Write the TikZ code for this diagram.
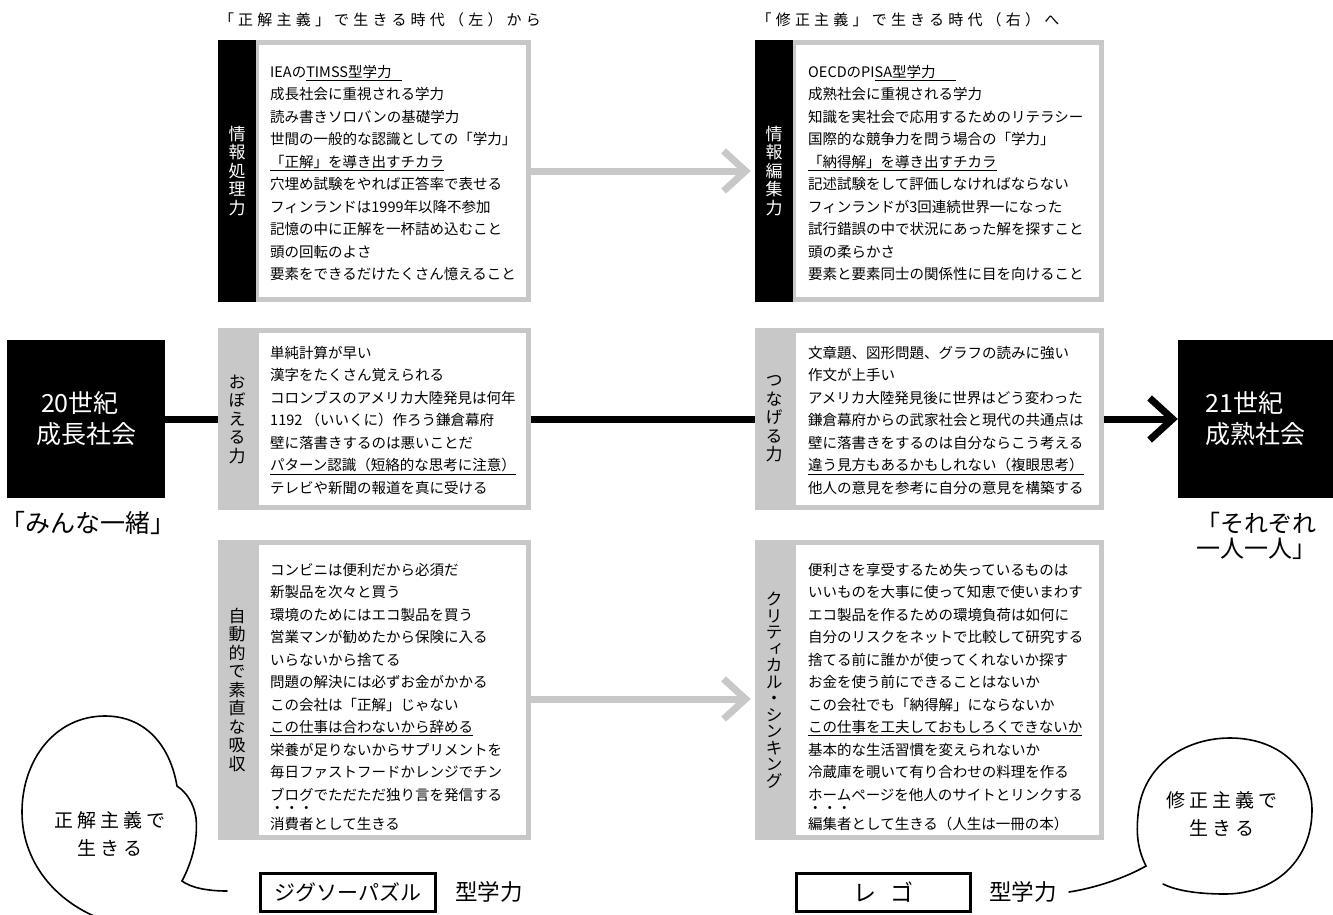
\documentclass[tikz,border=0pt]{standalone}
\usepackage{fontspec}
\setmainfont{Noto Sans CJK JP}
\newfontfamily\tatefont[RawFeature=+vert]{Noto Sans CJK JP}
\newfontfamily\spacedfont[LetterSpace=28]{Noto Sans CJK JP}
\newfontfamily\bubblefont[LetterSpace=22]{Noto Sans CJK JP}
\usepackage{tikz}
\usetikzlibrary{arrows.meta}
\definecolor{panelgray}{RGB}{200,200,200}
\definecolor{bargray}{RGB}{200,200,200}
\newcommand{\bt}[1]{\rlap{\raisebox{16pt}{・}}#1}

\begin{document}
\begin{tikzpicture}[x=1pt, y=-1pt,
    panel/.style={draw=panelgray, line width=5pt, fill=white, inner sep=0pt},
    darkbar/.style={fill=black, text=white, inner sep=0pt, minimum width=38pt, align=center, font=\fontsize{17}{18.5}\tatefont},
    lightbar/.style={darkbar, fill=bargray, text=black},
    items/.style={anchor=north west, inner sep=0pt, align=left, font=\fontsize{14.5}{22.5}\selectfont},
    era/.style={fill=black, text=white, inner sep=0pt, align=left, minimum height=158pt, font=\fontsize{25}{31}\selectfont},
    blackline/.style={line width=7pt},
    grayarrow/.style={line width=7pt, draw=bargray, shorten >=4pt, -{Straight Barb[length=22pt, width=40pt]}},
    kindbox/.style={draw, line width=3pt, inner sep=0pt, minimum height=38pt, font=\fontsize{21}{21}\selectfont},
    kind/.style={inner sep=0pt, font=\fontsize{22.5}{22.5}\selectfont},
    voice/.style={line width=1.6pt, line cap=round},
    voicetext/.style={align=center, inner sep=0pt, font=\fontsize{19}{28}\bubblefont}]
    \useasboundingbox (0,0) rectangle (1333,915);
    \clip (0,0) rectangle (1333,915);

    % Headings
    \node[font=\fontsize{15}{15}\spacedfont] (titleL) at (380,20) {「正解主義」で生きる時代（左）から};
    \node[font=\fontsize{15}{15}\spacedfont] (titleR) at (908,20) {「修正主義」で生きる時代（右）へ};

    % Top row
    \node[panel, minimum width=272pt, minimum height=257pt] (topL) at (392,171) {};
    \node[darkbar, minimum height=262pt] (topLbar) at (237,171) {情\\報\\処\\理\\力};
    \node[items] (topLtext) at (270,65) {IEAの\underline{TIMSS型学力\hspace{0.7em}}\\
        成長社会に重視される学力\\
        読み書きソロバンの基礎学力\\
        世間の一般的な認識としての「学力」\\
        \underline{「正解」を導き出すチカラ}\\
        穴埋め試験をやれば正答率で表せる\\
        フィンランドは1999年以降不参加\\
        記憶の中に正解を一杯詰め込むこと\\
        頭の回転のよさ\\
        要素をできるだけたくさん憶えること};

    \node[panel, minimum width=308pt, minimum height=257pt] (topR) at (947,171) {};
    \node[darkbar, minimum height=262pt] (topRbar) at (774,171) {情\\報\\編\\集\\力};
    \node[items] (topRtext) at (808,65) {OECDのPI\underline{SA型学力\hspace{1.4em}}\\
        成熟社会に重視される学力\\
        知識を実社会で応用するためのリテラシー\\
        国際的な競争力を問う場合の「学力」\\
        \underline{「納得解」を導き出すチカラ}\\
        記述試験をして評価しなければならない\\
        フィンランドが3回連続世界一になった\\
        試行錯誤の中で状況にあった解を探すこと\\
        頭の柔らかさ\\
        要素と要素同士の関係性に目を向けること};

    % Middle row
    \node[era, minimum width=158pt] (c20) at (86,419) {\hspace{5pt}20世紀\\成長社会};
    \node[inner sep=0pt, font=\fontsize{25}{25}\selectfont] (together) at (88,523) {「みんな一緒」};

    \node[panel, minimum width=272pt, minimum height=177pt] (midL) at (392,419) {};
    \node[lightbar, minimum height=182pt] (midLbar) at (237,419) {お\\ぼ\\え\\る\\力};
    \node[items] (midLtext) at (270,346) {単純計算が早い\\
        漢字をたくさん覚えられる\\
        コロンブスのアメリカ大陸発見は何年\\
        1192 （いいくに）作ろう鎌倉幕府\\
        壁に落書きするのは悪いことだ\\
        \underline{パターン認識（短絡的な思考に注意）}\\
        テレビや新聞の報道を真に受ける};

    \node[panel, minimum width=308pt, minimum height=177pt] (midR) at (947,419) {};
    \node[lightbar, minimum height=182pt] (midRbar) at (774,419) {つ\\な\\げ\\る\\力};
    \node[items] (midRtext) at (808,346) {文章題、図形問題、グラフの読みに強い\\
        作文が上手い\\
        アメリカ大陸発見後に世界はどう変わった\\
        鎌倉幕府からの武家社会と現代の共通点は\\
        壁に落書きをするのは自分ならこう考える\\
        \underline{違う見方もあるかもしれない（複眼思考）}\\
        他人の意見を参考に自分の意見を構築する};

    \node[era, minimum width=155pt] (c21) at (1255.5,419) {21世紀\\成熟社会};
    \node[align=left, font=\fontsize{24}{25}\selectfont] (eachone) at (1256,536) {「それぞれ\\一人一人」};

    % Bottom row
    \node[panel, minimum width=272pt, minimum height=295pt] (botL) at (392,690) {};
    \node[lightbar, minimum height=300pt] (botLbar) at (237,690) {自\\動\\的\\で\\素\\直\\な\\吸\\収};
    \node[items] (botLtext) at (270,563) {コンビニは便利だから必須だ\\
        新製品を次々と買う\\
        環境のためにはエコ製品を買う\\
        営業マンが勧めたから保険に入る\\
        いらないから捨てる\\
        問題の解決には必ずお金がかかる\\
        この会社は「正解」じゃない\\
        \underline{この仕事は合わないから辞める}\\
        栄養が足りないからサプリメントを\\
        毎日ファストフードかレンジでチン\\
        ブログでただただ独り言を発信する\\[4pt]
        \bt{消}\bt{費}\bt{者}として生きる};

    \node[panel, minimum width=308pt, minimum height=295pt] (botR) at (947,690) {};
    \node[lightbar, minimum height=300pt, font=\fontsize{17}{16.5}\tatefont] (botRbar) at (774,690) {ク\\リ\\テ\\ィ\\カ\\ル\\・\\シ\\ン\\キ\\ン\\グ};
    \node[items] (botRtext) at (808,563) {便利さを享受するため失っているものは\\
        いいものを大事に使って知恵で使いまわす\\
        エコ製品を作るための環境負荷は如何に\\
        自分のリスクをネットで比較して研究する\\
        捨てる前に誰かが使ってくれないか探す\\
        お金を使う前にできることはないか\\
        この会社でも「納得解」にならないか\\
        \underline{この仕事を工夫しておもしろくできないか}\\
        基本的な生活習慣を変えられないか\\
        冷蔵庫を覗いて有り合わせの料理を作る\\
        ホームページを他人のサイトとリンクする\\[4pt]
        \bt{編}\bt{集}\bt{者}として生きる（人生は一冊の本）};

    % Connectors
    \draw[grayarrow] (topL.east) -- (topRbar.west);
    \draw[grayarrow] ([yshift=-9pt]botL.east) -- ([yshift=-9pt]botRbar.west);
    \draw[blackline] (c20.east) -- (midLbar.west);
    \draw[blackline] (midL.east) -- (midRbar.west);
    \draw[blackline, -{Straight Barb[length=23pt, width=42pt]}] (midR.east) -- (c21.west);

    % Kinds of learning
    \node[kindbox, minimum width=175pt] (jigsaw) at (348,892) {ジグソーパズル};
    \node[kind] (jigsawkind) at (489,892) {型学力};
    \node[kindbox, minimum width=174pt, font=\fontsize{23}{23}\selectfont] (lego) at (883.5,892) {レ\hspace{0.6em}ゴ};
    \node[kind] (legokind) at (1023,892) {型学力};

    % Speech bubbles
    \draw[voice] (227,891) .. controls (205,891) and (190,887) .. (182,881)
        .. controls (193,860) and (198,838) .. (196,818)
        .. controls (194,803) and (186,792) .. (177,786)
        .. controls (170,745) and (145,716) .. (105,716)
        .. controls (55,716) and (22,760) .. (22,812)
        .. controls (22,865) and (60,910) .. (120,925);
    \node[voicetext] (leftvoice) at (110,834) {正解主義で\\生きる};

    \draw[voice] (1069,892) .. controls (1095,888) and (1125,878) .. (1146,866)
        .. controls (1138,850) and (1136,835) .. (1138,815)
        .. controls (1142,765) and (1185,738) .. (1230,738)
        .. controls (1280,738) and (1312,770) .. (1312,810)
        .. controls (1312,860) and (1275,894) .. (1225,894)
        .. controls (1195,894) and (1175,890) .. (1163,884);
    \node[voicetext] (rightvoice) at (1222,814) {修正主義で\\生きる};
\end{tikzpicture}
\end{document}
